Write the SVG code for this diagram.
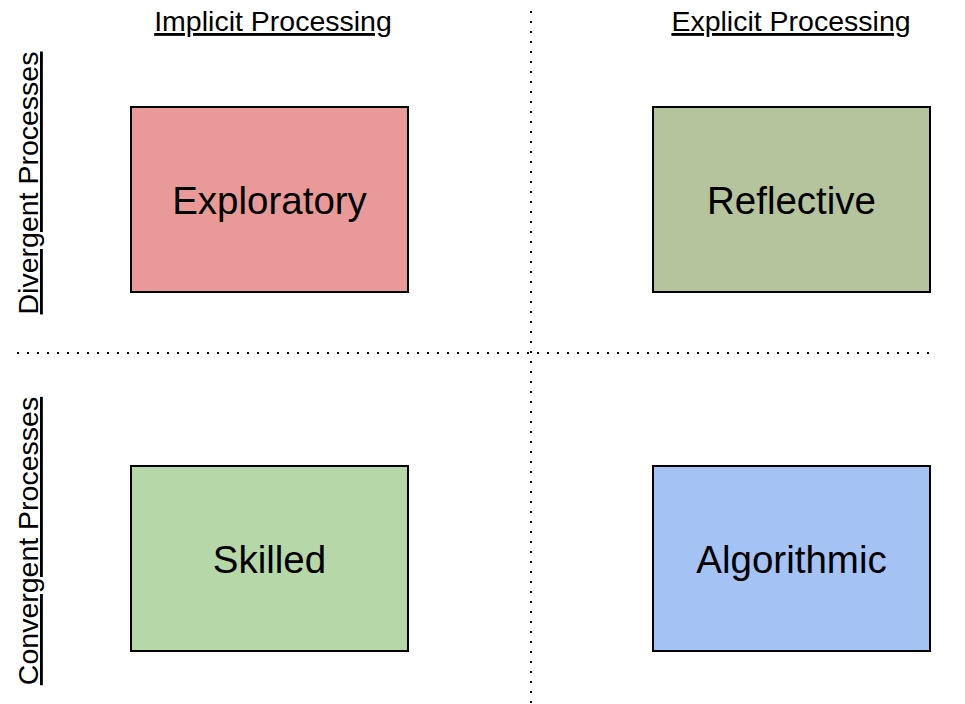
<svg xmlns="http://www.w3.org/2000/svg" width="965" height="704" viewBox="0 0 965 704">
<style>
.box{stroke:#000;stroke-width:2}
.lbl{font-family:"Liberation Sans",Arial,sans-serif;font-size:38.5px;fill:#000;text-anchor:middle}
.hdr{font-family:"Liberation Sans",Arial,sans-serif;font-size:28.5px;fill:#000;text-anchor:middle;text-decoration:underline}
.dot{stroke:#000;stroke-width:2;stroke-dasharray:2 8;fill:none}
</style>
<rect width="965" height="704" fill="#fff"/>
<g id="connectors">
<line class="dot" x1="531" y1="11" x2="531" y2="704"/>
<line class="dot" x1="17" y1="353" x2="935" y2="353"/>
</g>
<g id="header-implicit"><text class="hdr" x="273" y="31">Implicit Processing</text></g>
<g id="header-explicit"><text class="hdr" x="791" y="31">Explicit Processing</text></g>
<g id="label-divergent"><text class="hdr" transform="translate(38,183) rotate(-90)">Divergent Processes</text></g>
<g id="label-convergent"><text class="hdr" transform="translate(38,541) rotate(-90)">Convergent Processes</text></g>
<g id="exploratory"><rect class="box" x="131" y="107" width="277" height="185" fill="#ea9999"/><text class="lbl" x="269.5" y="214">Exploratory</text></g>
<g id="reflective"><rect class="box" x="653" y="107" width="277" height="185" fill="#b5c49c"/><text class="lbl" x="791.5" y="214">Reflective</text></g>
<g id="skilled"><rect class="box" x="131" y="466" width="277" height="185" fill="#b6d7a8"/><text class="lbl" x="269.5" y="573">Skilled</text></g>
<g id="algorithmic"><rect class="box" x="653" y="466" width="277" height="185" fill="#a4c2f4"/><text class="lbl" x="791.5" y="573">Algorithmic</text></g>
</svg>
